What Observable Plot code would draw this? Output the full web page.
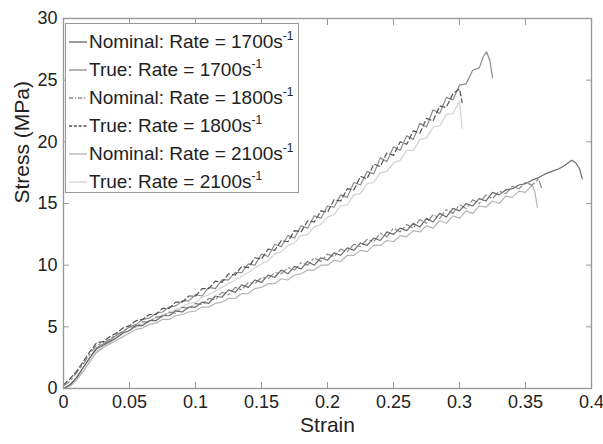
<!DOCTYPE html>
<html><head><meta charset="utf-8">
<script src="https://cdn.jsdelivr.net/npm/d3@7"></script>
<script src="https://cdn.jsdelivr.net/npm/@observablehq/plot@0.6"></script>
<style>
body{margin:0;background:#fff;}
#wrap{position:relative;width:603px;height:444px;font-family:"Liberation Sans",Arial,sans-serif;}
#legend{position:absolute;left:65px;top:23px;width:232px;height:168px;border:1px solid #999;background:#fff;}
.item{position:absolute;left:0;height:28px;display:flex;align-items:center;font-size:19px;color:#222;white-space:nowrap;}
.item svg{margin-left:3px;margin-right:2px;}
.item sup{font-size:12px;position:relative;top:-8px;vertical-align:baseline;line-height:0;}
</style></head><body><div id="wrap"><div id="legend"></div></div>
<script>
const xTicks = [0, 0.05, 0.1, 0.15, 0.2, 0.25, 0.3, 0.35, 0.4];
const yTicks = [0, 5, 10, 15, 20, 25, 30];

const seriesNames = ["Nominal: Rate = 1700s", "True: Rate = 1700s", "Nominal: Rate = 1800s", "True: Rate = 1800s", "Nominal: Rate = 2100s", "True: Rate = 2100s"];
const seriesColors = ["#6a6a6a", "#8c8c8c", "#8a8a8a", "#505050", "#b4b4b4", "#d2d2d2"];
const seriesDash = [null, null, "7,3,2,3", "5,3", null, null];

const strainGrid = [0,0.005,0.01,0.015,0.02,0.025,0.03,0.035,0.04,0.045,
0.05,0.055,0.06,0.065,0.07,0.075,0.08,0.085,0.09,0.095,
0.1,0.105,0.11,0.115,0.12,0.125,0.13,0.135,0.14,0.145,
0.15,0.155,0.16,0.165,0.17,0.175,0.18,0.185,0.19,0.195,
0.2,0.205,0.21,0.215,0.22,0.225,0.23,0.235,0.24,0.245,
0.25,0.255,0.26,0.265,0.27,0.275,0.28,0.285,0.29,0.295,
0.3,0.305,0.31,0.315,0.32,0.325,0.33,0.335,0.34,0.345,
0.35,0.355,0.36,0.365,0.37,0.375,0.38,0.385];

// Nominal 1700
const stressN1700 = [0,0.3,0.9,1.7,2.5,3.2,3.5,3.8,4.1,4.5,
4.7,5.1,5.1,5.5,5.5,5.9,5.9,6.3,6.2,6.6,
6.6,7.0,6.9,7.5,7.4,8.0,7.8,8.4,8.2,8.8,
8.6,9.2,9.0,9.6,9.3,9.9,9.7,10.3,10.0,10.6,
10.4,11.0,10.8,11.4,11.2,11.8,11.6,12.2,12.0,12.7,
12.5,13.0,12.8,13.4,13.1,13.8,13.5,14.2,13.9,14.6,
14.4,15.0,14.8,15.4,15.2,15.9,15.7,16.1,16.2,16.5,
16.6,16.9,17.1,17.4,17.6,17.8,18.1,18.5,
18.3,17.8,17.0];
const tailN1700 = [0.388,0.391,0.393];

// True 1700
const stressT1700 = [0,0.3,0.9,1.7,2.5,3.3,3.6,3.9,4.3,4.6,
5.0,5.2,5.6,5.7,6.1,6.2,6.6,6.7,7.1,7.1,
7.6,7.5,8.2,8.1,8.8,8.8,9.4,9.4,10.1,10.0,
10.9,10.7,11.7,11.5,12.4,12.2,13.2,13.0,14.0,13.8,
14.8,14.7,15.7,15.5,16.7,16.5,17.6,17.4,18.7,18.4,
19.6,19.3,20.5,20.2,21.5,21.2,22.6,22.3,23.6,23.4,
24.6,24.7,25.8,26.0,
26.9,27.3,26.6,25.2];
const tailT1700 = [0.318,0.3205,0.323,0.325];

// Nominal 1800
const stressN1800 = [0.2,0.6,1.3,2.0,2.8,3.5,3.7,4.0,4.4,4.6,
5.0,5.0,5.4,5.4,5.8,5.8,6.2,6.1,6.6,6.5,
6.9,6.8,7.3,7.2,7.8,7.6,8.2,8.0,8.6,8.5,
9.0,8.9,9.4,9.3,9.8,9.6,10.2,10.0,10.6,10.3,
10.9,10.7,11.3,11.1,11.7,11.5,12.1,11.9,12.6,12.3,
13.0,12.7,13.3,13.0,13.7,13.4,14.1,13.8,14.5,14.2,
14.9,14.6,15.3,15.0,15.7,15.4,16.0,15.8,16.4,16.2,
16.7,16.5,17.0,
16.3];
const tailN1800 = [0.362];

// True 1800
const stressT1800 = [0.3,0.8,1.4,2.2,3.0,3.7,3.8,4.2,4.5,4.9,
5.1,5.5,5.6,6.0,6.0,6.5,6.5,7.0,7.0,7.5,
7.5,8.1,8.1,8.7,8.6,9.3,9.2,9.9,9.8,10.6,
10.5,11.3,11.2,12.0,11.9,12.8,12.7,13.6,13.5,14.4,
14.3,15.3,15.2,16.2,16.1,17.2,17.0,18.2,18.0,19.1,
18.9,20.0,19.8,20.9,20.7,21.9,21.7,22.9,22.8,23.9,
24.3,
23.2];
const tailT1800 = [0.302];

// Nominal 2100
const stressN2100 = [0,0.2,0.7,1.4,2.2,2.9,3.3,3.6,3.9,4.2,
4.5,4.8,4.9,5.2,5.3,5.6,5.6,5.9,6.0,6.2,
6.3,6.6,6.6,6.9,7.0,7.3,7.3,7.7,7.7,8.1,
8.2,8.5,8.5,8.9,8.8,9.2,9.3,9.6,9.6,10.0,
10.0,10.4,10.3,10.8,10.8,11.2,11.1,11.6,11.6,12.0,
11.9,12.4,12.3,12.8,12.7,13.2,13.0,13.6,13.4,14.0,
13.8,14.4,14.2,14.8,14.7,15.2,15.0,15.6,15.5,16.0,
15.9,16.5,
16.0,14.7];
const tailN2100 = [0.357,0.359];

// True 2100
const stressT2100 = [0,0.2,0.7,1.4,2.2,3.0,3.4,3.7,4.1,4.4,
4.7,5.0,5.2,5.5,5.7,6.0,6.1,6.4,6.6,6.9,
7.0,7.4,7.6,7.9,8.2,8.5,8.8,9.1,9.4,9.8,
10.1,10.4,10.9,11.1,11.6,11.8,12.4,12.5,13.1,13.3,
13.9,14.1,14.8,14.9,15.7,15.8,16.6,16.7,17.5,17.6,
18.3,18.5,19.3,19.3,20.2,20.3,21.2,21.3,22.2,22.3,
23.3,
21.1];
const tailT2100 = [0.302];

const seriesStress = [stressN1700, stressT1700, stressN1800, stressT1800, stressN2100, stressT2100];
const seriesTails = [tailN1700, tailT1700, tailN1800, tailT1800, tailN2100, tailT2100];

function buildSeries(i) {
  const stress = seriesStress[i], tail = seriesTails[i];
  const xs = strainGrid.slice(0, stress.length - tail.length).concat(tail);
  if (xs.length !== stress.length) console.error("length mismatch", i, xs.length, stress.length);
  return stress.map((s, k) => ({series: seriesNames[i], strain: xs[k], stress: s}));
}

const drawOrder = [5, 4, 2, 1, 0, 3];
const lineMarks = drawOrder.map(i => Plot.line(buildSeries(i), {
  x: "strain", y: "stress", stroke: seriesColors[i], strokeWidth: 1.2,
  strokeDasharray: seriesDash[i] || undefined
}));

const W = 603, H = 444, mL = 63, mR = 12, mT = 18, mB = 56;
const frameW = W - mL - mR, frameH = H - mT - mB;
const tl = 6;
const frameColor = "#999";
const tickColor = "#999";
const chart = Plot.plot({
  width: W, height: H,
  marginLeft: mL, marginRight: mR, marginTop: mT, marginBottom: mB,
  style: {fontFamily: "'Liberation Sans', Arial, sans-serif", fontSize: "18px", color: "#222", background: "#fff"},
  x: {domain: [0, 0.4], label: null},
  y: {domain: [0, 30], label: null},
  marks: [
    ...lineMarks,
    Plot.axisX(xTicks, {tickSize: 0, tickPadding: 7, tickFormat: d => String(d), fontSize: 18}),
    Plot.axisY(yTicks, {tickSize: 0, tickPadding: 6, tickFormat: d => String(d), fontSize: 18}),
    // inward ticks: bottom and left
    Plot.ruleX(xTicks, {x: d => d, stroke: tickColor, strokeWidth: 1, insetTop: frameH - tl}),
    Plot.ruleY(yTicks, {y: d => d, stroke: tickColor, strokeWidth: 1, insetRight: frameW - tl}),
    // inward ticks: top and right
    Plot.axisX(xTicks, {anchor: "top", tickSize: tl, dy: tl, tickFormat: () => "", stroke: tickColor, strokeWidth: 1}),
    Plot.axisY(yTicks, {anchor: "right", tickSize: tl, dx: -tl, tickFormat: () => "", stroke: tickColor, strokeWidth: 1}),
    Plot.frame({stroke: frameColor, strokeWidth: 1.4}),
    Plot.text(["Strain"], {frameAnchor: "bottom", dy: 43, fontSize: 21, fill: "#222"}),
    Plot.text(["Stress (MPa)"], {frameAnchor: "left", dx: -41, rotate: -90, fontSize: 21, fill: "#222"})
  ]
});
const wrap = document.getElementById("wrap");
wrap.insertBefore(chart, wrap.firstChild);

const legend = document.getElementById("legend");
seriesNames.forEach((name, i) => {
  const item = document.createElement("div");
  item.className = "item";
  item.style.top = (4 + i * 28) + "px";
  const dash = seriesDash[i] ? `stroke-dasharray="${seriesDash[i].split(",").map(v => v * 0.6).join(",")}"` : "";
  item.innerHTML = `<svg width="18" height="6"><line x1="0" y1="3" x2="18" y2="3" stroke="${seriesColors[i]}" stroke-width="1.3" ${dash}/></svg><span>${name}<sup>-1</sup></span>`;
  legend.appendChild(item);
});
</script>
</body></html>
